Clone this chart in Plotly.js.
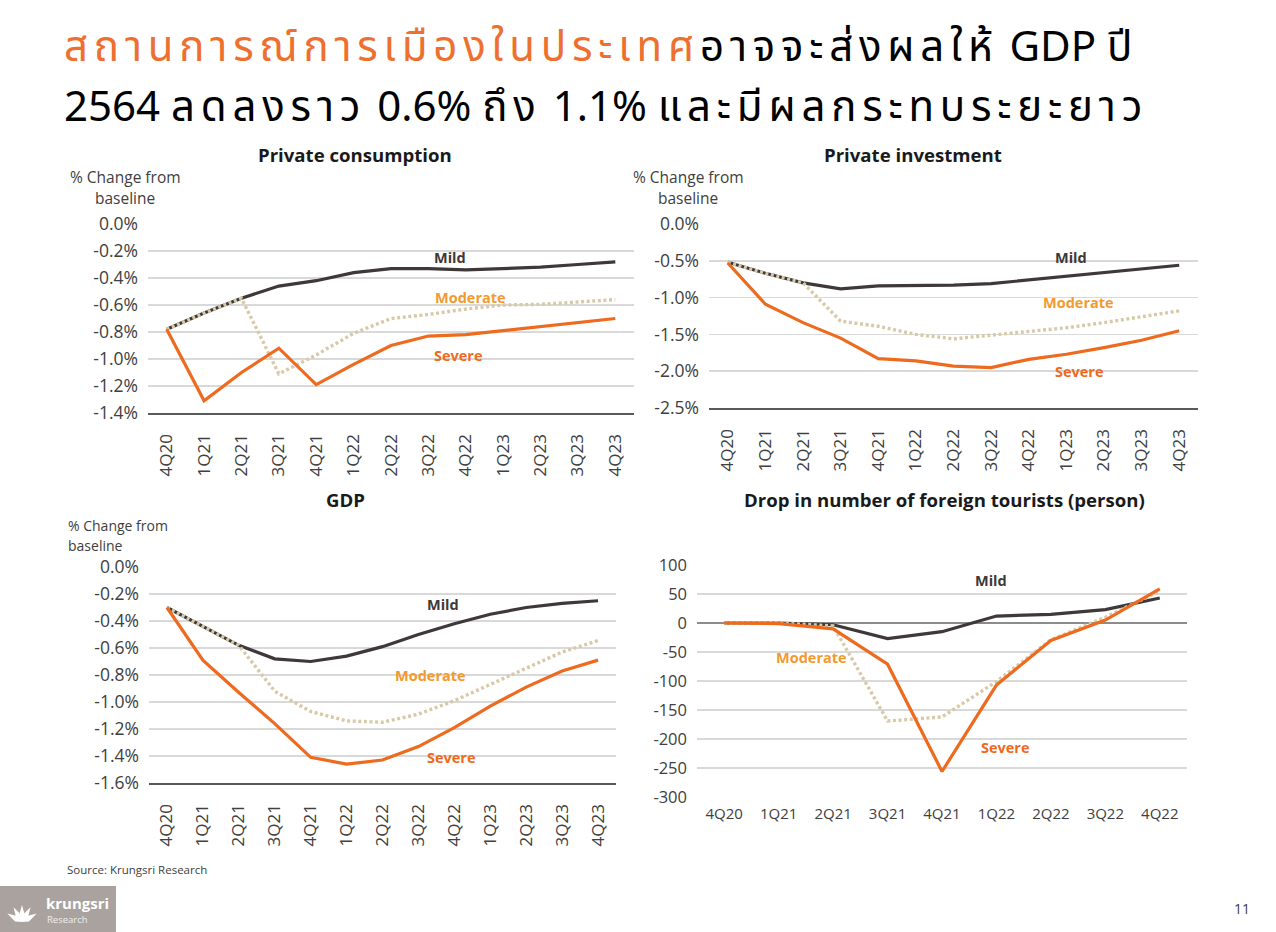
<!DOCTYPE html>
<html>
<head>
<meta charset="utf-8">
<script src="https://cdn.plot.ly/plotly-3.0.1.min.js"></script>
<style>
html,body{margin:0;padding:0;background:#fff;}
#chart{width:1276px;height:932px;}
</style>
</head>
<body>
<div id="chart"></div>
<script>
// ---------- DATA ----------
const quarters13 = ['4Q20','1Q21','2Q21','3Q21','4Q21','1Q22','2Q22','3Q22','4Q22','1Q23','2Q23','3Q23','4Q23'];
const quarters9 = ['4Q20','1Q21','2Q21','3Q21','4Q21','1Q22','2Q22','3Q22','4Q22'];

const pcMild     = [-0.78,-0.66,-0.55,-0.46,-0.42,-0.36,-0.33,-0.33,-0.34,-0.33,-0.32,-0.30,-0.28];
const pcModerate = [-0.78,-0.66,-0.55,-1.11,-0.97,-0.81,-0.70,-0.67,-0.63,-0.60,-0.595,-0.58,-0.56];
const pcSevere   = [-0.78,-1.31,-1.10,-0.92,-1.19,-1.04,-0.90,-0.83,-0.82,-0.79,-0.76,-0.73,-0.70];

const piMild     = [-0.52,-0.67,-0.80,-0.88,-0.84,-0.84,-0.83,-0.81,-0.76,-0.72,-0.67,-0.61,-0.56];
const piModerate = [-0.52,-0.67,-0.80,-1.32,-1.39,-1.50,-1.56,-1.51,-1.46,-1.41,-1.34,-1.26,-1.18];
const piSevere   = [-0.53,-1.09,-1.34,-1.55,-1.83,-1.86,-1.93,-1.95,-1.84,-1.77,-1.68,-1.58,-1.45];

const gdpMild     = [-0.30,-0.44,-0.58,-0.68,-0.70,-0.66,-0.59,-0.50,-0.42,-0.35,-0.30,-0.27,-0.25];
const gdpModerate = [-0.30,-0.44,-0.58,-0.92,-1.07,-1.14,-1.15,-1.09,-0.99,-0.87,-0.75,-0.63,-0.545];
const gdpSevere   = [-0.30,-0.69,-0.93,-1.16,-1.41,-1.46,-1.43,-1.33,-1.19,-1.03,-0.89,-0.77,-0.69];

const touMild     = [0,0,-3,-27,-15,12,15,23,43];
const touModerate = [0,0,-5,-169,-162,-101,-29,10,55];
const touSevere   = [0,-1,-10,-71,-256,-107,-30,5,59];

const pcTickVals  = [0,-0.2,-0.4,-0.6,-0.8,-1.0,-1.2,-1.4];
const pcTickText  = ['0.0%','-0.2%','-0.4%','-0.6%','-0.8%','-1.0%','-1.2%','-1.4%'];
const piTickVals  = [0,-0.5,-1.0,-1.5,-2.0,-2.5];
const piTickText  = ['0.0%','-0.5%','-1.0%','-1.5%','-2.0%','-2.5%'];
const gdpTickVals = [0,-0.2,-0.4,-0.6,-0.8,-1.0,-1.2,-1.4,-1.6];
const gdpTickText = ['0.0%','-0.2%','-0.4%','-0.6%','-0.8%','-1.0%','-1.2%','-1.4%','-1.6%'];
const touTickVals = [100,50,0,-50,-100,-150,-200,-250,-300];
const touTickText = ['100','50','0','-50','-100','-150','-200','-250','-300'];

const seriesNames = ['Mild','Moderate','Severe'];
const chartTitles = ['Private consumption','Private investment','GDP','Drop in number of foreign tourists (person)'];
const titleLine1Orange = 'สถานการณ์การเมืองในประเทศ';
const titleLine1Thai = 'อาจจะส่งผลให้';
const titleLine1End = ' GDP ปี';
const titleLine2Parts = ['2564 ', 'ลดลงราว', ' 0.6% ', 'ถึง', ' 1.1% ', 'และมีผลกระทบระยะยาว'];

// ---------- STYLE ----------
const W = 1276, H = 932;
const FONT = '"Open Sans", "Noto Sans", sans-serif';
const THAI = '"Noto Sans Thai", "Noto Sans Thai UI", "Noto Sans", sans-serif';
const cMild = '#3f3838', cSev = '#ee6a1f', cMod = '#d8caa8';
const cModText = '#f39a2e', cText = '#404040';
const px = (x) => x / W;
const py = (y) => 1 - y / H;

function tracesFor(x, mild, mod, sev, xa, ya) {
  return [
    {x: x, y: mild, name: seriesNames[0], type: 'scatter', mode: 'lines', xaxis: xa, yaxis: ya,
     line: {color: cMild, width: 3.2}},
    {x: x, y: mod, name: seriesNames[1], type: 'scatter', mode: 'lines', xaxis: xa, yaxis: ya,
     line: {color: cMod, width: 3.4, dash: '3px,2.6px'}},
    {x: x, y: sev, name: seriesNames[2], type: 'scatter', mode: 'lines', xaxis: xa, yaxis: ya,
     line: {color: cSev, width: 3.2}}
  ];
}

const data = [].concat(
  tracesFor(quarters13, pcMild, pcModerate, pcSevere, 'x', 'y'),
  tracesFor(quarters13, piMild, piModerate, piSevere, 'x2', 'y2'),
  tracesFor(quarters13, gdpMild, gdpModerate, gdpSevere, 'x3', 'y3'),
  tracesFor(quarters9, touMild, touModerate, touSevere, 'x4', 'y4')
);

function xAxis(domain, anchor, n, rotated, showline) {
  return {
    domain: domain, anchor: anchor, type: 'category',
    range: [-0.5, n - 0.5], fixedrange: true,
    showgrid: false, zeroline: false,
    showline: showline, linecolor: '#5a5a5a', linewidth: 2.2,
    ticks: '', tickangle: rotated ? -90 : 0,
    ticklabelstandoff: rotated ? 12 : 6,
    tickfont: {family: FONT, size: rotated ? 17 : 15, color: cText}
  };
}
function yAxis(domain, anchor, range, vals, text, zeroline, fs) {
  return {
    domain: domain, anchor: anchor, range: range, fixedrange: true,
    tickvals: vals, ticktext: text,
    showgrid: true, gridcolor: '#d9d9d9', gridwidth: 1.5,
    zeroline: zeroline, zerolinecolor: '#8c8c8c', zerolinewidth: 1.8,
    showline: false, ticks: '', ticklabelstandoff: 9,
    tickfont: {family: FONT, size: fs, color: cText}
  };
}

const ann = [];
function label(text, x, y, opts) {
  ann.push(Object.assign({text: text, x: px(x), y: py(y), xref: 'paper', yref: 'paper',
    showarrow: false, xanchor: 'center', yanchor: 'middle',
    font: {family: FONT, size: 14, color: cText}}, opts || {}));
}

// big Thai title (two lines)
const isThai = (s) => /[\u0E00-\u0E7F]/.test(s) && !/[0-9%]/.test(s);
const thSpan = (s, color) => '<span style="letter-spacing:5.8px' + (color ? ';color:' + color : '') + '">' + s + '</span>';
label(thSpan(titleLine1Orange, '#ee7030') + thSpan(titleLine1Thai) + titleLine1End, 62, 48,
  {xanchor: 'left', font: {family: THAI, size: 42, color: '#000000'}});
label(titleLine2Parts.map(p => isThai(p) ? thSpan(p) : p).join(''), 62, 108,
  {xanchor: 'left', font: {family: THAI, size: 42, color: '#000000'}});

// chart titles
const titleFont = {family: FONT, size: 18.6, color: '#1a1a1a'};
label('<b>' + chartTitles[0] + '</b>', 355, 155, {font: titleFont});
label('<b>' + chartTitles[1] + '</b>', 913, 155, {font: titleFont});
label('<b>' + chartTitles[2] + '</b>', 345, 500, {font: titleFont});
label('<b>' + chartTitles[3] + '</b>', 945, 500, {font: titleFont});

// axis titles
const axFont = {family: FONT, size: 15.5, color: cText};
const axFont3 = {family: FONT, size: 14, color: cText};
label('% Change from', 125, 177, {font: axFont});
label('baseline', 125, 198, {font: axFont});
label('% Change from', 688, 177, {font: axFont});
label('baseline', 688, 198, {font: axFont});
label('% Change from', 66, 525, {xanchor: 'left', font: axFont3});
label('baseline', 66, 545, {xanchor: 'left', font: axFont3});

// series labels
const fM = {family: FONT, size: 14.5, color: cMild};
const fMo = {family: FONT, size: 14.5, color: cModText};
const fS = {family: FONT, size: 14.5, color: cSev};
label('<b>Mild</b>', 450, 257, {font: fM});
label('<b>Moderate</b>', 470, 297, {font: fMo});
label('<b>Severe</b>', 458, 356, {font: fS});
label('<b>Mild</b>', 1071, 258, {font: fM});
label('<b>Moderate</b>', 1078, 302, {font: fMo});
label('<b>Severe</b>', 1079, 371, {font: fS});
label('<b>Mild</b>', 443, 604, {font: fM});
label('<b>Moderate</b>', 430, 675, {font: fMo});
label('<b>Severe</b>', 451, 757, {font: fS});
label('<b>Mild</b>', 991, 580, {font: fM});
label('<b>Moderate</b>', 811, 657, {font: fMo});
label('<b>Severe</b>', 1006, 747, {font: fS});

// footer
label('Source: Krungsri Research', 65, 869, {xanchor: 'left', font: {family: FONT, size: 11.5, color: cText}});
label('11', 1242, 908, {font: {family: FONT, size: 14, color: cText}});
label('<b>krungsri</b>', 44, 903, {xanchor: 'left', font: {family: FONT, size: 15, color: '#ffffff'}});
label('Research', 45, 919, {xanchor: 'left', font: {family: FONT, size: 9.5, color: '#f0eeee'}});

// logo mark: fan of petals
const shapes = [
  {type: 'rect', xref: 'paper', yref: 'paper', x0: px(0), x1: px(116), y0: py(886), y1: py(932),
   fillcolor: '#aaa29e', line: {width: 0}, layer: 'below'}
];
const cx = 22, cy = 922;
[-60, -30, 0, 30, 60].forEach(function(a) {
  const r = a * Math.PI / 180;
  const tipX = cx + 17 * Math.sin(r), tipY = cy - 17 * Math.cos(r);
  const lx = cx + 7 * Math.sin(r - 0.45), ly = cy - 7 * Math.cos(r - 0.45);
  const rx = cx + 7 * Math.sin(r + 0.45), ry = cy - 7 * Math.cos(r + 0.45);
  shapes.push({type: 'path', xref: 'paper', yref: 'paper',
    path: 'M ' + px(cx) + ' ' + py(cy) + ' L ' + px(lx) + ' ' + py(ly) + ' L ' + px(tipX) + ' ' + py(tipY) +
          ' L ' + px(rx) + ' ' + py(ry) + ' Z',
    fillcolor: '#ffffff', line: {width: 0}});
});

const layout = {
  width: W, height: H,
  margin: {l: 0, r: 0, t: 0, b: 0},
  paper_bgcolor: '#ffffff', plot_bgcolor: '#ffffff',
  showlegend: false,
  font: {family: FONT, color: cText},
  xaxis:  xAxis([px(148), px(634)], 'y', 13, true, true),
  yaxis:  yAxis([py(413), py(224)], 'x', [-1.4, 0], pcTickVals, pcTickText, false, 17.5),
  xaxis2: xAxis([px(709), px(1198)], 'y2', 13, true, true),
  yaxis2: yAxis([py(408), py(224)], 'x2', [-2.5, 0], piTickVals, piTickText, false, 17.5),
  xaxis3: xAxis([px(149), px(616)], 'y3', 13, true, true),
  yaxis3: yAxis([py(783), py(567)], 'x3', [-1.6, 0], gdpTickVals, gdpTickText, false, 17.5),
  xaxis4: xAxis([px(697), px(1187)], 'y4', 9, false, false),
  yaxis4: yAxis([py(797), py(565)], 'x4', [-300, 100], touTickVals, touTickText, true, 16.5),
  annotations: ann,
  shapes: shapes
};

Plotly.newPlot('chart', data, layout, {displayModeBar: false, staticPlot: true});
</script>
</body>
</html>
